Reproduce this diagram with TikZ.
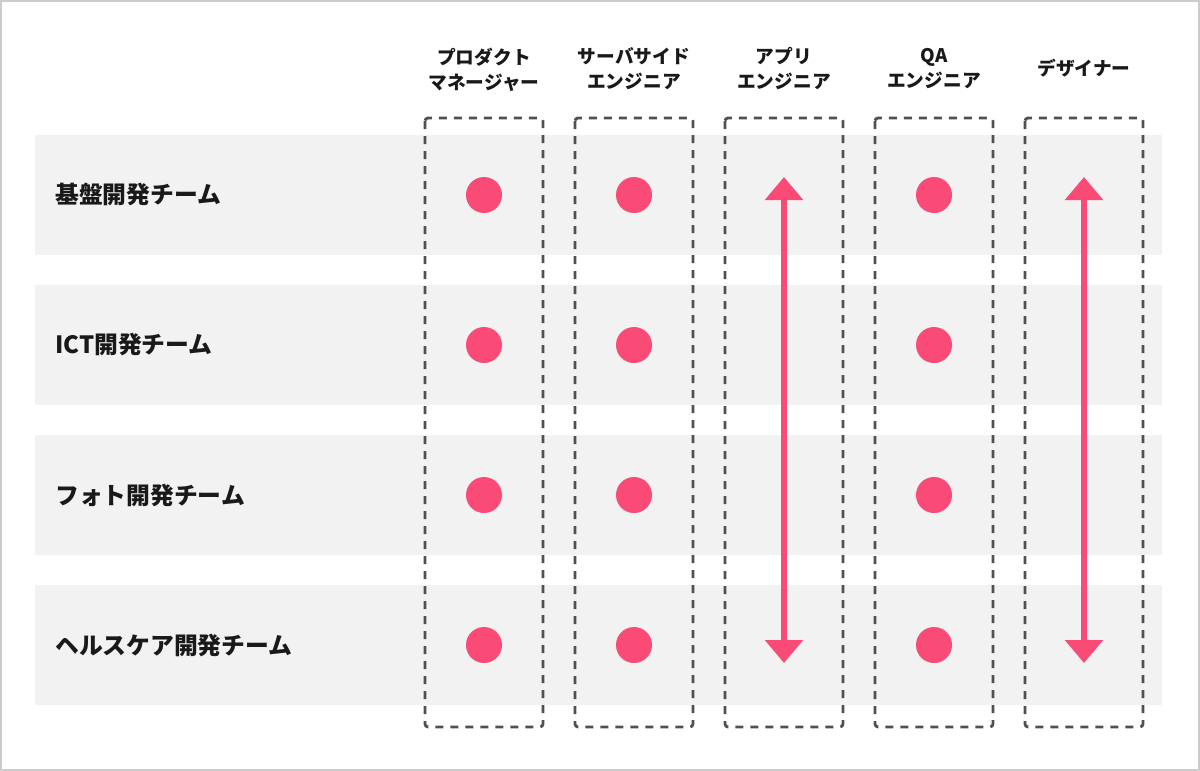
\documentclass[tikz,border=0pt]{standalone}
\usepackage{fontspec}
\setmainfont{Noto Sans CJK JP}
\usetikzlibrary{arrows.meta}

\definecolor{dotpink}{HTML}{FA4A76}
\definecolor{bandgray}{HTML}{F2F2F2}
\definecolor{boxgray}{HTML}{505050}
\definecolor{framegray}{HTML}{CCCCCC}

\tikzset{
	band/.style={fill=bandgray, draw=none},
	rolebox/.style={draw=boxgray, line width=2.8pt, dash pattern=on 8pt off 7pt, rounded corners=3pt},
	member/.style={circle, fill=dotpink, minimum size=36pt, inner sep=0pt},
	rolehead/.style={align=center, font=\bfseries\fontsize{18.7pt}{25pt}\selectfont, text=black!90},
	teamname/.style={anchor=west, inner sep=0pt, font=\bfseries\fontsize{23.8pt}{26pt}\selectfont, text=black!90},
	span/.style={draw=dotpink, line width=6pt, {Triangle[width=37pt, length=23pt]}-{Triangle[width=37pt, length=23pt]}}
}

\begin{document}
\begin{tikzpicture}[x=1pt, y=-1pt]
		\useasboundingbox (0, 0) rectangle (1200, 771);
		% frame
		\draw[framegray, line width=2pt] (1, 1) rectangle (1199, 770);

		% team rows
		\fill[band] (35, 135) rectangle (1162, 255);
		\fill[band] (35, 285) rectangle (1162, 405);
		\fill[band] (35, 435) rectangle (1162, 555);
		\fill[band] (35, 585) rectangle (1162, 705);

		\node[teamname] (kiban) at (55, 195) {基盤開発チーム};
		\node[teamname] (ict) at (55, 345) {ICT開発チーム};
		\node[teamname] (photo) at (55, 495) {フォト開発チーム};
		\node[teamname] (health) at (55, 645) {ヘルスケア開発チーム};

		% role columns
		\draw[rolebox] (425, 118) rectangle (543, 727);
		\draw[rolebox] (575, 118) rectangle (693, 727);
		\draw[rolebox] (725, 118) rectangle (843, 727);
		\draw[rolebox] (875, 118) rectangle (993, 727);
		\draw[rolebox] (1025, 118) rectangle (1143, 727);

		\node[rolehead] (pm) at (484, 70) {プロダクト\\マネージャー};
		\node[rolehead] (server) at (634, 69) {サーバサイド\\エンジニア};
		\node[rolehead] (app) at (784, 69) {アプリ\\エンジニア};
		\node[rolehead] (qa) at (934, 69) {QA\\エンジニア};
		\node[rolehead] (design) at (1084, 68) {デザイナー};

		% members
		\node[member] (pm1) at (484, 195) {};
		\node[member] (pm2) at (484, 345) {};
		\node[member] (pm3) at (484, 495) {};
		\node[member] (pm4) at (484, 645) {};
		\node[member] (sv1) at (634, 195) {};
		\node[member] (sv2) at (634, 345) {};
		\node[member] (sv3) at (634, 495) {};
		\node[member] (sv4) at (634, 645) {};
		\node[member] (qa1) at (934, 195) {};
		\node[member] (qa2) at (934, 345) {};
		\node[member] (qa3) at (934, 495) {};
		\node[member] (qa4) at (934, 645) {};

		% shared across all teams
		\coordinate (apptop) at (784, 177);
		\coordinate (appbottom) at (784, 663);
		\coordinate (designtop) at (1084, 177);
		\coordinate (designbottom) at (1084, 663);
		\draw[span] (apptop) -- (appbottom);
		\draw[span] (designtop) -- (designbottom);

	\end{tikzpicture}
\end{document}
